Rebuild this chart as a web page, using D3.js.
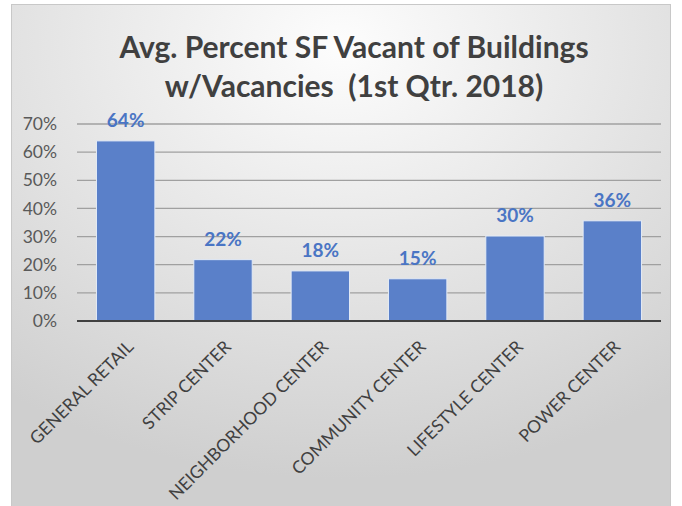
<!DOCTYPE html>
<html lang="en">

<head>
  <meta charset="utf-8" />
  <style>
    body {
      margin: 0;
      background: #fff;
    }

    svg text {
      font-family: Lato, "Open Sans", sans-serif;
    }
  </style>
</head>

<body>
  <div id="chart1"></div>

  <script src="https://cdnjs.cloudflare.com/ajax/libs/d3/7.8.5/d3.min.js"></script>
  <script>
    // data
    const categories = ["GENERAL RETAIL", "STRIP CENTER", "NEIGHBORHOOD CENTER",
      "COMMUNITY CENTER", "LIFESTYLE CENTER", "POWER CENTER"];
    const values = [0.64, 0.218, 0.178, 0.15, 0.302, 0.356];
    const yTicks = [0, 0.1, 0.2, 0.3, 0.4, 0.5, 0.6, 0.7];
    const titleLines = ["Avg. Percent SF Vacant of Buildings", "w/Vacancies  (1st Qtr. 2018)"];

    const width = 682;
    const height = 506;

    const svg = d3.select("#chart1")
      .append("svg")
      .attr("width", width)
      .attr("height", height);

    // background gradient, light in the upper middle
    const defs = svg.append("defs");
    const grad = defs.append("radialGradient")
      .attr("id", "bg")
      .attr("cx", "50%").attr("cy", "8%")
      .attr("r", "85%")
      .attr("fx", "50%").attr("fy", "8%");
    grad.append("stop").attr("offset", "0%").attr("stop-color", "#fdfdfd");
    grad.append("stop").attr("offset", "100%").attr("stop-color", "#cfcfcf");

    svg.append("rect")
      .attr("x", 11.5).attr("y", 4.5)
      .attr("width", 659).attr("height", 510)
      .attr("fill", "url(#bg)")
      .attr("stroke", "#c8c8c8");

    const margin = { left: 77, right: 21, top: 124, bottom: 185 };

    const x = d3.scaleBand()
      .domain(categories)
      .range([margin.left, width - margin.right])
      .paddingInner(0.4)
      .paddingOuter(0.2);

    const y = d3.scaleLinear()
      .domain([0, 0.7])
      .range([height - margin.bottom, margin.top]);

    // gridlines
    svg.append("g")
      .selectAll("line")
      .data(yTicks.slice(1))
      .join("line")
      .attr("x1", margin.left)
      .attr("x2", width - margin.right)
      .attr("y1", d => y(d))
      .attr("y2", d => y(d))
      .attr("stroke", "#a0a0a0")
      .attr("stroke-width", 1.3);

    // y axis labels
    svg.append("g")
      .selectAll("text")
      .data(yTicks)
      .join("text")
      .attr("x", 57)
      .attr("y", d => y(d))
      .attr("dy", "0.35em")
      .attr("text-anchor", "end")
      .attr("font-size", 17.5)
      .attr("fill", "#595959")
      .text(d3.format(".0%"));

    // bars
    svg.append("g")
      .selectAll("rect")
      .data(values)
      .join("rect")
      .attr("x", (d, i) => x(categories[i]))
      .attr("y", d => y(d))
      .attr("width", x.bandwidth())
      .attr("height", d => y(0) - y(d))
      .attr("fill", "#5a80c9")
      .attr("stroke", "#e4ebf6")
      .attr("stroke-width", 1);

    // value labels
    svg.append("g")
      .selectAll("text")
      .data(values)
      .join("text")
      .attr("x", (d, i) => x(categories[i]) + x.bandwidth() / 2)
      .attr("y", d => y(d) - 14)
      .attr("text-anchor", "middle")
      .attr("font-size", 19)
      .attr("font-weight", "bold")
      .attr("fill", "#4a75c4")
      .text(d3.format(".0%"));

    // zero line
    svg.append("line")
      .attr("x1", margin.left)
      .attr("x2", width - margin.right)
      .attr("y1", y(0))
      .attr("y2", y(0))
      .attr("stroke", "#404040")
      .attr("stroke-width", 2.2);

    // category labels, rotated
    svg.append("g")
      .selectAll("text")
      .data(categories)
      .join("text")
      .attr("transform", d => `translate(${x(d) + x.bandwidth() / 2 + 9},${y(0) + 27}) rotate(-45)`)
      .attr("text-anchor", "end")
      .attr("font-size", 17.5)
      .attr("fill", "#404040")
      .text(d => d);

    // title
    svg.append("g")
      .selectAll("text")
      .data(titleLines)
      .join("text")
      .attr("x", width / 2 + 13)
      .attr("y", (d, i) => 58 + i * 39)
      .attr("text-anchor", "middle")
      .attr("font-size", 30)
      .attr("font-weight", "bold")
      .attr("fill", "#404040")
      .attr("xml:space", "preserve")
      .text(d => d);
  </script>
</body>

</html>
